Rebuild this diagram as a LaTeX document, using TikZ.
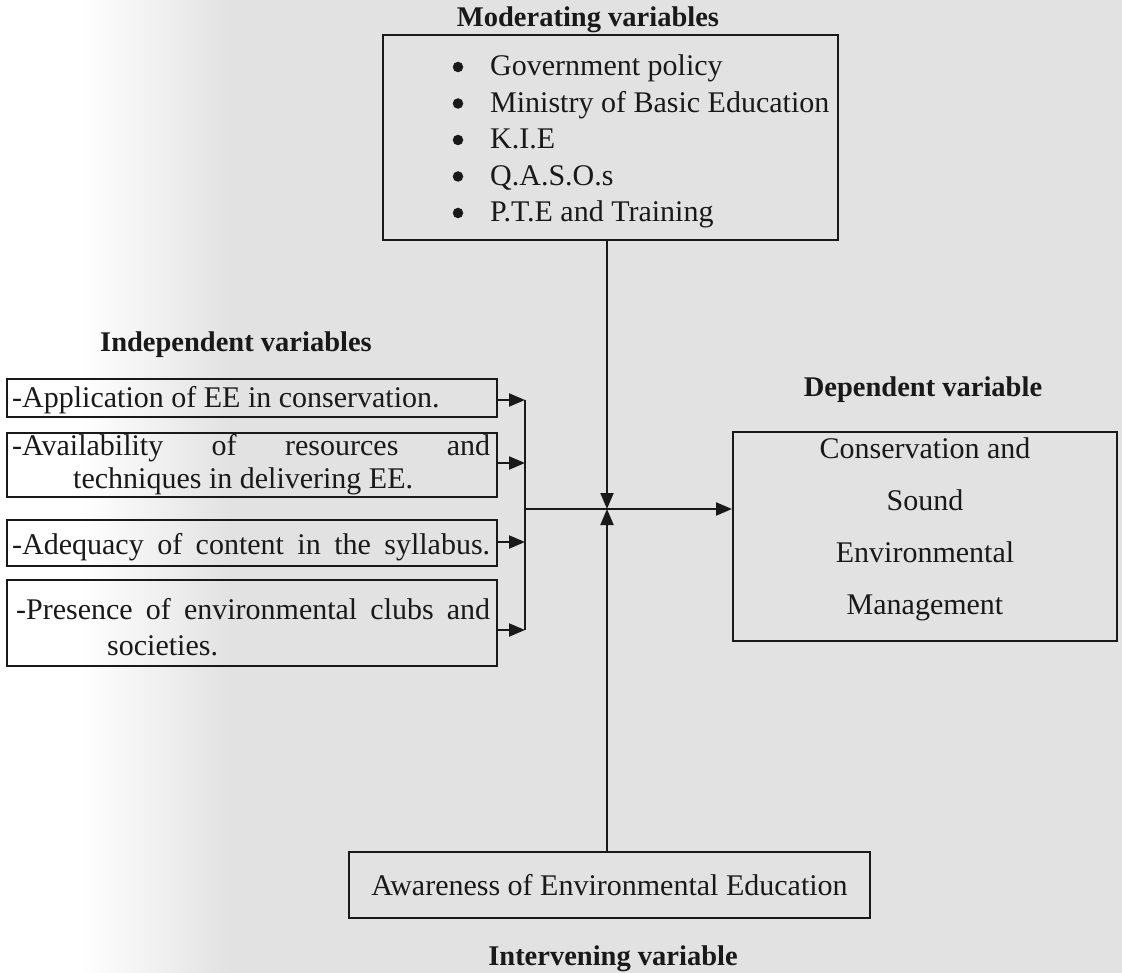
\documentclass[tikz,border=0pt]{standalone}
\usepackage{fontspec}
\setmainfont{Liberation Serif}
\usetikzlibrary{arrows.meta}
\definecolor{bgc}{RGB}{226,226,226}
\definecolor{ink}{RGB}{25,25,25}
\begin{document}
\begin{tikzpicture}[x=1pt,y=-1pt,
  box/.style={draw=ink, line width=2pt, inner sep=0pt, rectangle},
  txt/.style={inner sep=0pt, font=\fontsize{30}{34}\selectfont, text=ink},
  ttl/.style={inner sep=0pt, anchor=base, font=\fontsize{28.5}{32}\selectfont\bfseries, text=ink},
  arr/.style={draw=ink, line width=2pt, -{Triangle[length=16pt,width=13pt]}},
  ln/.style={draw=ink, line width=2pt},
  dot/.style={circle, fill=ink, inner sep=0pt, minimum size=10.5pt}]
\useasboundingbox (0,0) rectangle (1122,973);
\fill[bgc] (0,0) rectangle (1122,973);
\fill[white] (0,0) rectangle (80,973);
\shade[left color=white,right color=bgc] (80,0) rectangle (230,973);

% Moderating
\node[ttl] (modt) at (588,27) {Moderating variables};
\node[box, minimum width=455pt, minimum height=205pt] (mod) at (610.5,137.5) {};
\node[dot] (b1) at (458,67) {};
\node[dot] (b2) at (458,103.5) {};
\node[dot] (b3) at (458,140) {};
\node[dot] (b4) at (458,176.5) {};
\node[dot] (b5) at (458,213) {};
\node[txt, anchor=base west] (m1) at (490,76) {Government policy};
\node[txt, anchor=base west] (m2) at (490,112.5) {Ministry of Basic Education};
\node[txt, anchor=base west] (m3) at (490,149) {K.I.E};
\node[txt, anchor=base west] (m4) at (490,185.5) {Q.A.S.O.s};
\node[txt, anchor=base west] (m5) at (490,222) {P.T.E and Training};

% Independent
\node[ttl] (indt) at (236,352) {Independent variables};
\node[box, minimum width=490pt, minimum height=38pt] (app) at (252,398) {};
\node[txt, anchor=base west] (appt) at (12,408) {-Application of EE in conservation.};
\node[box, minimum width=490pt, minimum height=64pt] (ava) at (252,465) {};
\node[txt, anchor=base west] (ava1) at (12,456) {\makebox[478pt][s]{-Availability of resources and}};
\node[txt, anchor=base west] (ava2) at (73,488) {techniques in delivering EE.};
\node[box, minimum width=490pt, minimum height=46pt] (ade) at (252,543) {};
\node[txt, anchor=base west] (adet) at (12,554) {\makebox[478pt][s]{-Adequacy of content in the syllabus.}};
\node[box, minimum width=490pt, minimum height=86pt] (pre) at (252,623) {};
\node[txt, anchor=base west] (pre1) at (16,619) {\makebox[474pt][s]{-Presence of environmental clubs and}};
\node[txt, anchor=base west] (pre2) at (107,655) {societies.};

\coordinate (a1) at (525,400);
\coordinate (a2) at (525,463);
\coordinate (a3) at (525,542);
\coordinate (a4) at (525,630);
\coordinate (bm) at (525,509);
\draw[ln] (a1) -- (a4);
\draw[arr] (app.east |- a1) -- (a1);
\draw[arr] (ava.east |- a2) -- (a2);
\draw[arr] (ade.east |- a3) -- (a3);
\draw[arr] (pre.east |- a4) -- (a4);

% Dependent
\node[ttl] (dept) at (923,397) {Dependent variable};
\node[box, minimum width=384pt, minimum height=209pt] (dep) at (925,536.5) {};
\node[txt, anchor=base] (d1) at (925,458) {Conservation and};
\node[txt, anchor=base] (d2) at (925,510) {Sound};
\node[txt, anchor=base] (d3) at (925,562) {Environmental};
\node[txt, anchor=base] (d4) at (925,614) {Management};
\draw[arr] (bm) -- (bm -| dep.west);

% Intervening
\coordinate (J) at (607,509);
\draw[arr] (mod.south -| J) -- (J);
\node[box, minimum width=521pt, minimum height=66pt] (awa) at (609.5,885) {};
\node[txt, anchor=base] (awat) at (609.5,895) {Awareness of Environmental Education};
\draw[arr] (awa.north -| J) -- (J);
\node[ttl] (intt) at (613,965) {Intervening variable};
\end{tikzpicture}
\end{document}
